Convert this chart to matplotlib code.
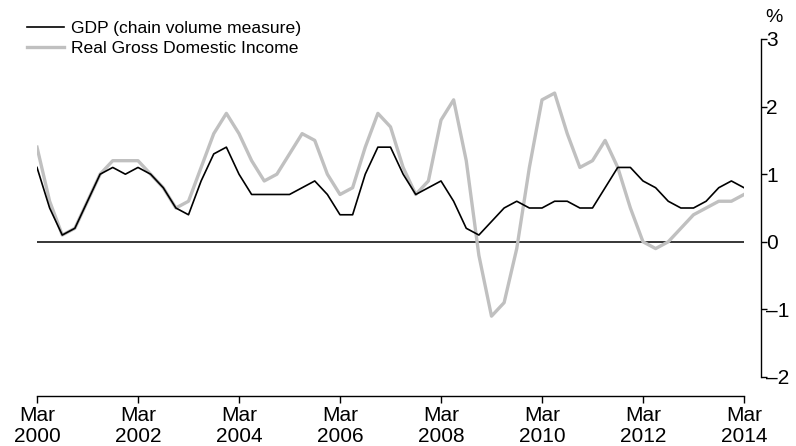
import matplotlib.pyplot as plt
import numpy as np

# quarterly growth, Mar 2000 .. Mar 2014
gdp = [1.1, 0.5, 0.1, 0.2, 0.6, 1.0, 1.1, 1.0,
       1.1, 1.0, 0.8, 0.5, 0.4, 0.9, 1.3, 1.4,
       1.0, 0.7, 0.7, 0.7, 0.7, 0.8, 0.9, 0.7,
       0.4, 0.4, 1.0, 1.4, 1.4, 1.0, 0.7, 0.8,
       0.9, 0.6, 0.2, 0.1, 0.3, 0.5, 0.6, 0.5,
       0.5, 0.6, 0.6, 0.5, 0.5, 0.8, 1.1, 1.1,
       0.9, 0.8, 0.6, 0.5, 0.5, 0.6, 0.8, 0.9, 0.8]
rgdi = [1.4, 0.6, 0.1, 0.2, 0.6, 1.0, 1.2, 1.2,
        1.2, 1.0, 0.8, 0.5, 0.6, 1.1, 1.6, 1.9,
        1.6, 1.2, 0.9, 1.0, 1.3, 1.6, 1.5, 1.0,
        0.7, 0.8, 1.4, 1.9, 1.7, 1.1, 0.7, 0.9,
        1.8, 2.1, 1.2, -0.2, -1.1, -0.9, -0.1, 1.1,
        2.1, 2.2, 1.6, 1.1, 1.2, 1.5, 1.1, 0.5,
        0.0, -0.1, 0.0, 0.2, 0.4, 0.5, 0.6, 0.6, 0.7]
tick_labels = ["Mar\n2000", "Mar\n2002", "Mar\n2004", "Mar\n2006",
               "Mar\n2008", "Mar\n2010", "Mar\n2012", "Mar\n2014"]
y_ticks = [-2, -1, 0, 1, 2, 3]

plt.rcParams['font.family'] = ['Liberation Sans', 'DejaVu Sans']

fig = plt.figure(figsize=(7.96, 4.46), dpi=100)
W, H = 796, 446
ax = fig.add_axes([37 / W, 1 - 377 / H, (744 - 37) / W, (377 - 39) / H])

q = np.arange(len(gdp))
ax.axhline(0, color='black', lw=1.1, zorder=1)
l2, = ax.plot(q, rgdi, color='#c0c0c0', lw=2.4, label='Real Gross Domestic Income', zorder=2)
l1, = ax.plot(q, gdp, color='black', lw=1.2, label='GDP (chain volume measure)', zorder=3)

ax.set_xlim(0, len(gdp) - 1)
ax.set_ylim(-2, 3)

for s in ['top', 'left']:
    ax.spines[s].set_visible(False)
ax.spines['right'].set_position(('outward', 12))
ax.spines['bottom'].set_position(('outward', 14))
ax.spines['right'].set_bounds(-2, 3)
ax.spines['bottom'].set_bounds(0, len(gdp) - 1)
for s in ['right', 'bottom']:
    ax.spines[s].set_linewidth(1.0)

ax.set_xticks(np.arange(0, len(gdp), 8))
ax.set_xticklabels(tick_labels)
ax.yaxis.tick_right()
ax.set_yticks(y_ticks)
ax.set_yticklabels([str(v).replace('-', '\u2013') for v in y_ticks])
ax.tick_params(axis='x', direction='out', length=5, width=1.0, labelsize=15, pad=2)
ax.tick_params(axis='y', direction='out', length=4, width=1.0, labelsize=15, pad=0)
for t in ax.get_xticklabels():
    t.set_linespacing(1.1)

ax.annotate('%', xy=(1, 1), xycoords='axes fraction', xytext=(15, 9),
            textcoords='offset points', fontsize=14, ha='left', va='bottom')

fig.legend(handles=[l1, l2], loc='upper left', bbox_to_anchor=(27 / W, 1 - 21 / H),
           frameon=False, handlelength=2.1, handletextpad=0.4,
           labelspacing=0.25, borderaxespad=0, borderpad=0,
           prop={'family': ['Liberation Sans', 'DejaVu Sans'], 'size': 12.6})

fig.savefig('out.png', dpi=100)
